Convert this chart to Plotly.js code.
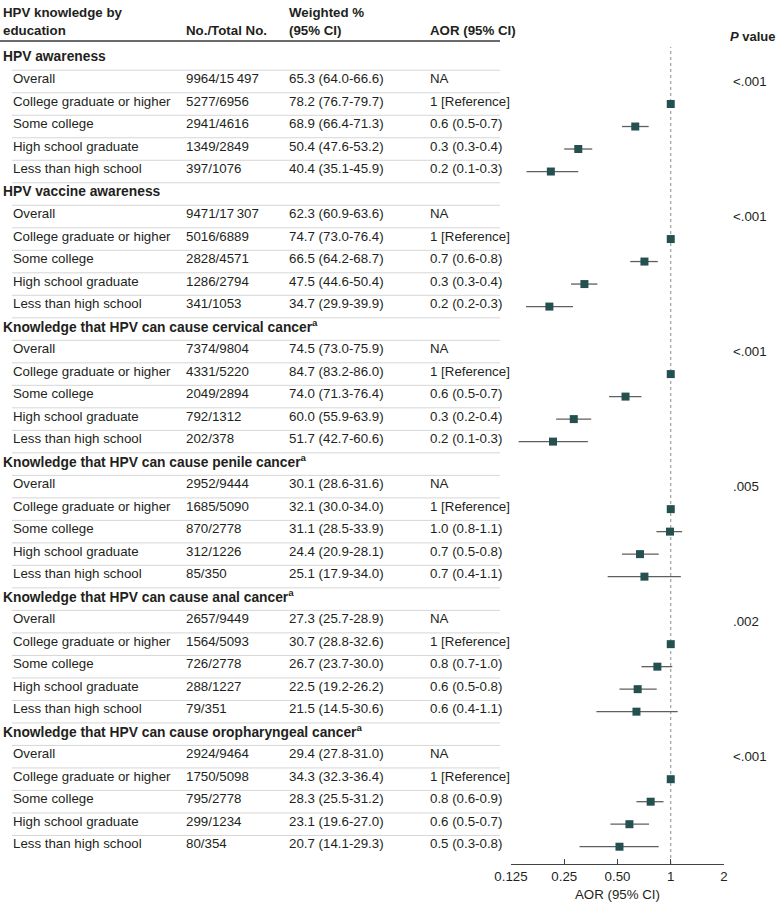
<!DOCTYPE html>
<html><head><meta charset="utf-8">
<script src="https://cdn.plot.ly/plotly-3.0.1.min.js"></script>
<style>body{margin:0;background:#fff}</style>
</head><body><div id="chart" style="width:780px;height:912px"></div>
<script>
// ---------- data ----------
const groups = [
  'HPV awareness',
  'HPV vaccine awareness',
  'Knowledge that HPV can cause cervical cancer',
  'Knowledge that HPV can cause penile cancer',
  'Knowledge that HPV can cause anal cancer',
  'Knowledge that HPV can cause oropharyngeal cancer'
];
const groupFootnote = [false, false, true, true, true, true];
const levels = ['Overall', 'College graduate or higher', 'Some college', 'High school graduate', 'Less than high school'];

const counts = [
  ['9964/15\u2009497', '5277/6956', '2941/4616', '1349/2849', '397/1076'],
  ['9471/17\u2009307', '5016/6889', '2828/4571', '1286/2794', '341/1053'],
  ['7374/9804', '4331/5220', '2049/2894', '792/1312', '202/378'],
  ['2952/9444', '1685/5090', '870/2778', '312/1226', '85/350'],
  ['2657/9449', '1564/5093', '726/2778', '288/1227', '79/351'],
  ['2924/9464', '1750/5098', '795/2778', '299/1234', '80/354']
];
const weighted = [
  ['65.3 (64.0-66.6)', '78.2 (76.7-79.7)', '68.9 (66.4-71.3)', '50.4 (47.6-53.2)', '40.4 (35.1-45.9)'],
  ['62.3 (60.9-63.6)', '74.7 (73.0-76.4)', '66.5 (64.2-68.7)', '47.5 (44.6-50.4)', '34.7 (29.9-39.9)'],
  ['74.5 (73.0-75.9)', '84.7 (83.2-86.0)', '74.0 (71.3-76.4)', '60.0 (55.9-63.9)', '51.7 (42.7-60.6)'],
  ['30.1 (28.6-31.6)', '32.1 (30.0-34.0)', '31.1 (28.5-33.9)', '24.4 (20.9-28.1)', '25.1 (17.9-34.0)'],
  ['27.3 (25.7-28.9)', '30.7 (28.8-32.6)', '26.7 (23.7-30.0)', '22.5 (19.2-26.2)', '21.5 (14.5-30.6)'],
  ['29.4 (27.8-31.0)', '34.3 (32.3-36.4)', '28.3 (25.5-31.2)', '23.1 (19.6-27.0)', '20.7 (14.1-29.3)']
];
const aorText = [
  ['NA', '1 [Reference]', '0.6 (0.5-0.7)', '0.3 (0.3-0.4)', '0.2 (0.1-0.3)'],
  ['NA', '1 [Reference]', '0.7 (0.6-0.8)', '0.3 (0.3-0.4)', '0.2 (0.2-0.3)'],
  ['NA', '1 [Reference]', '0.6 (0.5-0.7)', '0.3 (0.2-0.4)', '0.2 (0.1-0.3)'],
  ['NA', '1 [Reference]', '1.0 (0.8-1.1)', '0.7 (0.5-0.8)', '0.7 (0.4-1.1)'],
  ['NA', '1 [Reference]', '0.8 (0.7-1.0)', '0.6 (0.5-0.8)', '0.6 (0.4-1.1)'],
  ['NA', '1 [Reference]', '0.8 (0.6-0.9)', '0.6 (0.5-0.7)', '0.5 (0.3-0.8)']
];
// plotted AOR point estimates and CI bounds
const aor = [
  [null, 1, 0.63, 0.30, 0.21],
  [null, 1, 0.71, 0.325, 0.206],
  [null, 1, 0.555, 0.283, 0.216],
  [null, 1, 0.99, 0.67, 0.71],
  [null, 1, 0.84, 0.65, 0.64],
  [null, 1, 0.77, 0.584, 0.513]
];
const aorLow = [
  [null, 1, 0.53, 0.25, 0.153],
  [null, 1, 0.59, 0.273, 0.152],
  [null, 1, 0.448, 0.225, 0.138],
  [null, 1, 0.83, 0.53, 0.44],
  [null, 1, 0.683, 0.513, 0.38],
  [null, 1, 0.64, 0.456, 0.305]
];
const aorHigh = [
  [null, 1, 0.75, 0.36, 0.30],
  [null, 1, 0.845, 0.385, 0.28],
  [null, 1, 0.683, 0.355, 0.34],
  [null, 1, 1.16, 0.855, 1.14],
  [null, 1, 1.02, 0.833, 1.095],
  [null, 1, 0.91, 0.754, 0.855]
];
const pValues = ['<.001', '<.001', '<.001', '.005', '.002', '<.001'];
const xTickVals = [0.125, 0.25, 0.5, 1, 2];
const xTickText = ['0.125', '0.25', '0.50', '1', '2'];

// ---------- layout constants ----------
const W = 780, H = 912;
const PL = 511, PR = 724, PT = 47, PB = 864;
const ROW0 = 59, ROWH = 22.506;
const yTop = (PT - ROW0) / ROWH, yBot = (PB - ROW0) / ROWH;
const FONT = 'Liberation Sans, Arial, sans-serif';
const TXT = '#231f20';
const px2paperX = p => (p - PL) / (PR - PL);
const px2paperY = p => (PB - p) / (PB - PT);

const xs = [], ys = [], ep = [], em = [];
const annotations = [];
const shapes = [];
const rowsPerGroup = levels.length + 1;
const TSHIFT = 3;

function ann(text, px, y, yref, extra) {
  annotations.push(Object.assign({
    text: text, xref: 'paper', x: px2paperX(px - 2), xanchor: 'left',
    yref: yref, y: y, yanchor: 'middle', showarrow: false,
    font: {family: FONT, size: 13.3, color: TXT}
  }, extra || {}));
}

groups.forEach((g, gi) => {
  const base = gi * rowsPerGroup;
  ann('<b>' + g + (groupFootnote[gi] ? '<sup>a</sup>' : '') + '</b>', 3, base, 'y',
      {yshift: TSHIFT, font: {family: FONT, size: 13.8, color: TXT}});
  levels.forEach((lv, li) => {
    const r = base + 1 + li;
    ann(lv, 13, r, 'y', {yshift: TSHIFT});
    ann(counts[gi][li], 186, r, 'y', {yshift: TSHIFT});
    ann(weighted[gi][li], 289, r, 'y', {yshift: TSHIFT});
    ann(aorText[gi][li], 430, r, 'y', {yshift: TSHIFT});
    if (aor[gi][li] !== null) {
      xs.push(aor[gi][li]); ys.push(r);
      ep.push(aorHigh[gi][li] - aor[gi][li]);
      em.push(aor[gi][li] - aorLow[gi][li]);
    }
  });
  ann(pValues[gi], 733, base + 1, 'y');
});

// row separators
const totalRows = groups.length * rowsPerGroup;
for (let r = 0; r < totalRows - 1; r++) {
  shapes.push({type: 'line', xref: 'paper', yref: 'y',
    x0: px2paperX(12), x1: px2paperX(500), y0: r + 0.5, y1: r + 0.5,
    line: {color: '#d6d6d6', width: 1}});
}
// header rule
shapes.push({type: 'line', xref: 'paper', yref: 'paper',
  x0: px2paperX(0), x1: px2paperX(500), y0: px2paperY(41), y1: px2paperY(41),
  line: {color: '#3a3a3a', width: 1.6}});
// reference line at AOR = 1
shapes.push({type: 'line', xref: 'x', yref: 'paper', x0: 1, x1: 1, y0: 0, y1: 1,
  line: {color: '#8a8a8a', width: 1, dash: 'dot'}, layer: 'below'});

// column headers
const hdr = (t, px, py) => ann('<b>' + t + '</b>', px, px2paperY(py), 'paper');
hdr('HPV knowledge by', 3, 13);
hdr('education', 3, 31);
hdr('No./Total No.', 186, 31);
hdr('Weighted %', 289, 13);
hdr('(95% CI)', 289, 31);
hdr('AOR (95% CI)', 430, 31);
annotations.push({
  text: '<b><i>P</i> value</b>', xref: 'paper', x: px2paperX(778), xanchor: 'right',
  yref: 'paper', y: px2paperY(36), yanchor: 'middle', showarrow: false,
  font: {family: FONT, size: 13, color: TXT}
});

const trace = {
  type: 'scatter', mode: 'markers', x: xs, y: ys,
  marker: {symbol: 'square', size: 8, color: '#24514f'},
  error_x: {type: 'data', symmetric: false, array: ep, arrayminus: em,
    width: 0, color: '#5f5f5f', thickness: 1.3},
  hoverinfo: 'x', cliponaxis: false
};

const layout = {
  width: W, height: H,
  margin: {l: PL, r: W - PR, t: PT, b: H - PB, pad: 0},
  paper_bgcolor: '#fff', plot_bgcolor: '#fff',
  showlegend: false,
  font: {family: FONT, size: 13.3, color: TXT},
  xaxis: {
    type: 'log', range: [Math.log10(0.125), Math.log10(2)],
    tickvals: xTickVals, ticktext: xTickText,
    ticks: 'inside', ticklen: 5, tickcolor: '#444', tickwidth: 1,
    showline: true, linecolor: '#444', linewidth: 1,
    showgrid: false, zeroline: false,
    tickfont: {family: FONT, size: 13.3, color: TXT},
    title: {text: 'AOR (95% CI)', font: {family: FONT, size: 13.3, color: TXT}, standoff: 6},
    fixedrange: true
  },
  yaxis: {
    range: [yBot, yTop], showticklabels: false, showgrid: false,
    zeroline: false, showline: false, ticks: '', fixedrange: true
  },
  annotations: annotations,
  shapes: shapes
};

Plotly.newPlot('chart', [trace], layout, {displayModeBar: false, staticPlot: true});
</script>
</body></html>
